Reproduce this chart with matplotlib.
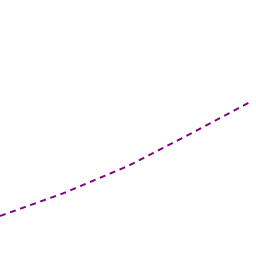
import matplotlib
matplotlib.use("Agg")
import matplotlib.pyplot as plt

x = [0, 64, 128, 192, 252]
y = [216, 193, 166, 133, 101]

fig = plt.figure(figsize=(2.56, 2.56), dpi=100)
ax = fig.add_axes([0, 0, 1, 1])
lw = 1.4
ax.plot(x, y, color="#800080", linewidth=lw, dashes=(4.3 / lw, 3.4 / lw))
ax.set_xlim(0, 256)
ax.set_ylim(256, 0)
ax.axis("off")
fig.savefig("out.png", dpi=100)
